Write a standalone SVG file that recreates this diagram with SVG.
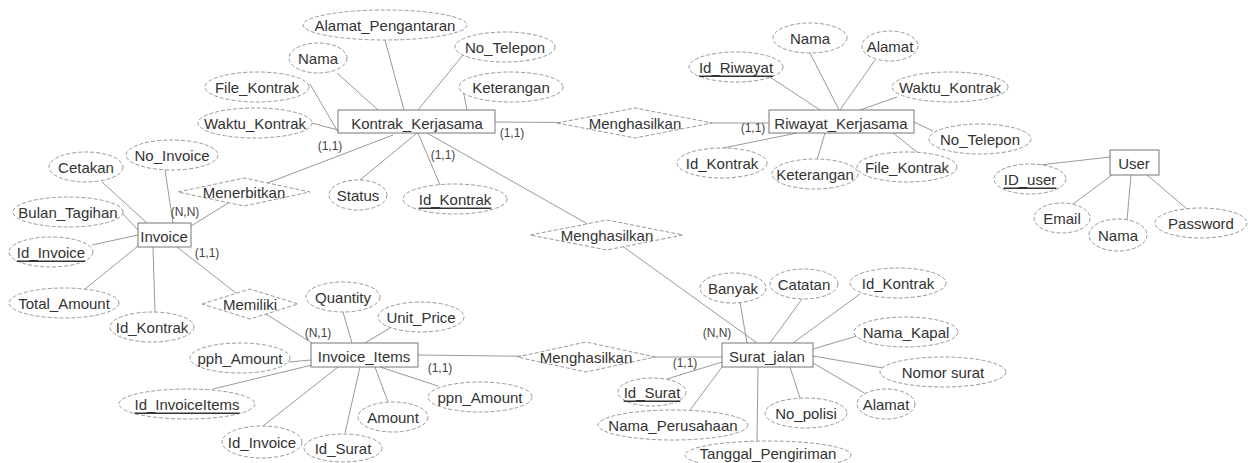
<svg xmlns="http://www.w3.org/2000/svg" width="1248" height="463" viewBox="0 0 1248 463">
<style>
text{font-family:"Liberation Sans",Arial,sans-serif;font-size:15px;fill:#333;text-anchor:middle;dominant-baseline:central}
.attr{fill:#fff;stroke:#999;stroke-width:1;stroke-dasharray:4 2}
.ent{fill:#fff;stroke:#777;stroke-width:1}
.rel{fill:#fff;stroke:#999;stroke-width:1;stroke-dasharray:4 2}
.con line{stroke:#999;stroke-width:1}
.card{font-size:12px;fill:#444}
.key{text-decoration:underline}
</style>
<rect width="1248" height="463" fill="#fff"/>
<g id="connectors" class="con">
<line x1="385" y1="40" x2="404" y2="110"/>
<line x1="337" y1="73" x2="378" y2="110"/>
<line x1="310" y1="84" x2="338" y2="132"/>
<line x1="300" y1="120" x2="338" y2="130"/>
<line x1="463" y1="55" x2="418" y2="110"/>
<line x1="463" y1="90" x2="467" y2="110"/>
<line x1="360" y1="180" x2="417" y2="133"/>
<line x1="440" y1="185" x2="418" y2="133"/>
<line x1="393" y1="135" x2="244" y2="192"/>
<line x1="233" y1="200" x2="191" y2="226"/>
<line x1="427" y1="133" x2="607" y2="235"/>
<line x1="607" y1="235" x2="757" y2="343"/>
<line x1="495" y1="122" x2="635" y2="123"/>
<line x1="635" y1="123" x2="769" y2="123"/>
<line x1="770" y1="77" x2="820" y2="110"/>
<line x1="810" y1="53" x2="839" y2="110"/>
<line x1="875" y1="60" x2="840" y2="110"/>
<line x1="897" y1="97" x2="860" y2="110"/>
<line x1="914" y1="122" x2="933" y2="131"/>
<line x1="893" y1="133" x2="917" y2="152"/>
<line x1="825" y1="133" x2="817" y2="160"/>
<line x1="797" y1="133" x2="723" y2="148"/>
<line x1="1110" y1="157" x2="1040" y2="165"/>
<line x1="1112" y1="175" x2="1073" y2="204"/>
<line x1="1131" y1="175" x2="1127" y2="220"/>
<line x1="1147" y1="175" x2="1187" y2="209"/>
<line x1="102" y1="182" x2="147" y2="223"/>
<line x1="165" y1="170" x2="173" y2="223"/>
<line x1="122" y1="213" x2="138" y2="230"/>
<line x1="92" y1="245" x2="138" y2="235"/>
<line x1="85" y1="289" x2="138" y2="246"/>
<line x1="155" y1="312" x2="153" y2="247"/>
<line x1="177" y1="247" x2="250" y2="304"/>
<line x1="250" y1="304" x2="312" y2="343"/>
<line x1="343" y1="312" x2="352" y2="343"/>
<line x1="390" y1="328" x2="365" y2="343"/>
<line x1="289" y1="362" x2="311" y2="360"/>
<line x1="213" y1="389" x2="312" y2="365"/>
<line x1="263" y1="426" x2="338" y2="367"/>
<line x1="345" y1="433" x2="360" y2="367"/>
<line x1="388" y1="402" x2="375" y2="367"/>
<line x1="438" y1="386" x2="380" y2="367"/>
<line x1="418" y1="355" x2="586" y2="357"/>
<line x1="586" y1="357" x2="722" y2="357"/>
<line x1="740" y1="302" x2="747" y2="343"/>
<line x1="802" y1="299" x2="770" y2="343"/>
<line x1="860" y1="294" x2="793" y2="343"/>
<line x1="857" y1="336" x2="813" y2="349"/>
<line x1="883" y1="368" x2="813" y2="356"/>
<line x1="866" y1="394" x2="813" y2="363"/>
<line x1="800" y1="398" x2="790" y2="367"/>
<line x1="757" y1="442" x2="758" y2="367"/>
<line x1="690" y1="410" x2="722" y2="367"/>
<line x1="667" y1="379" x2="722" y2="362"/>
</g>
<g id="rel-menerbitkan"><polygon class="rel" points="178,192 244,178 310,192 244,206"/><text x="244" y="192">Menerbitkan</text></g>
<g id="rel-memiliki"><polygon class="rel" points="202,304 250,289 298,304 250,319"/><text x="250" y="304">Memiliki</text></g>
<g id="rel-menghasilkan-riwayat"><polygon class="rel" points="557,123 635,108 712,123 635,138"/><text x="635" y="123">Menghasilkan</text></g>
<g id="rel-menghasilkan-surat"><polygon class="rel" points="530,235 607,220 683,235 607,250"/><text x="607" y="235">Menghasilkan</text></g>
<g id="rel-menghasilkan-items"><polygon class="rel" points="517,357 586,342 655,357 586,372"/><text x="586" y="357">Menghasilkan</text></g>

<g id="ent-kontrak"><rect class="ent" x="338" y="110" width="157" height="23"/><text x="417" y="123">Kontrak_Kerjasama</text></g>
<g id="ent-riwayat"><rect class="ent" x="769" y="110" width="145" height="23"/><text x="841" y="123">Riwayat_Kerjasama</text></g>
<g id="ent-invoice"><rect class="ent" x="138" y="223" width="53" height="24"/><text x="164" y="236">Invoice</text></g>
<g id="ent-items"><rect class="ent" x="311" y="343" width="107" height="24"/><text x="364" y="356">Invoice_Items</text></g>
<g id="ent-surat"><rect class="ent" x="722" y="343" width="91" height="24"/><text x="767" y="356">Surat_jalan</text></g>
<g id="ent-user"><rect class="ent" x="1110" y="150" width="49" height="25"/><text x="1134" y="163">User</text></g>

<g id="k-alamat"><ellipse class="attr" cx="385" cy="25" rx="82" ry="15"/><text x="385" y="25">Alamat_Pengantaran</text></g>
<g id="k-nama"><ellipse class="attr" cx="318" cy="58" rx="29" ry="15"/><text x="318" y="58">Nama</text></g>
<g id="k-notelp"><ellipse class="attr" cx="505" cy="47" rx="50" ry="15"/><text x="505" y="47">No_Telepon</text></g>
<g id="k-ket"><ellipse class="attr" cx="511" cy="87" rx="52" ry="15"/><text x="511" y="87">Keterangan</text></g>
<g id="k-file"><ellipse class="attr" cx="257" cy="87" rx="52" ry="15"/><text x="257" y="87">File_Kontrak</text></g>
<g id="k-waktu"><ellipse class="attr" cx="255" cy="123" rx="57" ry="15"/><text x="255" y="123">Waktu_Kontrak</text></g>
<g id="k-status"><ellipse class="attr" cx="358" cy="195" rx="29" ry="15"/><text x="358" y="195">Status</text></g>
<g id="k-id"><ellipse class="attr" cx="455" cy="199" rx="52" ry="15"/><text class="key" x="455" y="199">Id_Kontrak</text></g>

<g id="i-cetakan"><ellipse class="attr" cx="86" cy="167" rx="37" ry="15"/><text x="86" y="167">Cetakan</text></g>
<g id="i-noinv"><ellipse class="attr" cx="172" cy="155" rx="46" ry="15"/><text x="172" y="155">No_Invoice</text></g>
<g id="i-bulan"><ellipse class="attr" cx="68" cy="212" rx="55" ry="15"/><text x="68" y="212">Bulan_Tagihan</text></g>
<g id="i-id"><ellipse class="attr" cx="51" cy="252" rx="42" ry="15"/><text class="key" x="51" y="252">Id_Invoice</text></g>
<g id="i-total"><ellipse class="attr" cx="64" cy="303" rx="55" ry="15"/><text x="64" y="303">Total_Amount</text></g>
<g id="i-idk"><ellipse class="attr" cx="152" cy="327" rx="42" ry="15"/><text x="152" y="327">Id_Kontrak</text></g>

<g id="it-qty"><ellipse class="attr" cx="343" cy="297" rx="37" ry="15"/><text x="343" y="297">Quantity</text></g>
<g id="it-unit"><ellipse class="attr" cx="421" cy="317" rx="43" ry="15"/><text x="421" y="317">Unit_Price</text></g>
<g id="it-pph"><ellipse class="attr" cx="240" cy="358" rx="50" ry="15"/><text x="240" y="358">pph_Amount</text></g>
<g id="it-id"><ellipse class="attr" cx="187" cy="404" rx="68" ry="15"/><text class="key" x="187" y="404">Id_InvoiceItems</text></g>
<g id="it-idinv"><ellipse class="attr" cx="262" cy="442" rx="40" ry="16"/><text x="262" y="442">Id_Invoice</text></g>
<g id="it-idsurat"><ellipse class="attr" cx="343" cy="448" rx="39" ry="14"/><text x="343" y="448">Id_Surat</text></g>
<g id="it-amount"><ellipse class="attr" cx="393" cy="417" rx="35" ry="15"/><text x="393" y="417">Amount</text></g>
<g id="it-ppn"><ellipse class="attr" cx="480" cy="397" rx="52" ry="15"/><text x="480" y="397">ppn_Amount</text></g>

<g id="s-banyak"><ellipse class="attr" cx="733" cy="288" rx="33" ry="15"/><text x="733" y="288">Banyak</text></g>
<g id="s-catatan"><ellipse class="attr" cx="804" cy="284" rx="34" ry="15"/><text x="804" y="284">Catatan</text></g>
<g id="s-idk"><ellipse class="attr" cx="898" cy="283" rx="48" ry="15"/><text x="898" y="283">Id_Kontrak</text></g>
<g id="s-kapal"><ellipse class="attr" cx="906" cy="332" rx="52" ry="15"/><text x="906" y="332">Nama_Kapal</text></g>
<g id="s-nomor"><ellipse class="attr" cx="943" cy="372" rx="63" ry="15"/><text x="943" y="372">Nomor surat</text></g>
<g id="s-alamat"><ellipse class="attr" cx="886" cy="404" rx="29" ry="15"/><text x="886" y="404">Alamat</text></g>
<g id="s-nopol"><ellipse class="attr" cx="806" cy="413" rx="41" ry="15"/><text x="806" y="413">No_polisi</text></g>
<g id="s-tanggal"><ellipse class="attr" cx="768" cy="455" rx="83" ry="14"/><text x="768" y="453">Tanggal_Pengiriman</text></g>
<g id="s-perusahaan"><ellipse class="attr" cx="673" cy="425" rx="75" ry="15"/><text x="673" y="425">Nama_Perusahaan</text></g>
<g id="s-id"><ellipse class="attr" cx="652" cy="392" rx="34" ry="14"/><text class="key" x="652" y="392">Id_Surat</text></g>

<g id="r-id"><ellipse class="attr" cx="736" cy="67" rx="47" ry="15"/><text class="key" x="736" y="67">Id_Riwayat</text></g>
<g id="r-nama"><ellipse class="attr" cx="810" cy="38" rx="37" ry="15"/><text x="810" y="38">Nama</text></g>
<g id="r-alamat"><ellipse class="attr" cx="890" cy="46" rx="28" ry="15"/><text x="890" y="46">Alamat</text></g>
<g id="r-waktu"><ellipse class="attr" cx="950" cy="87" rx="58" ry="15"/><text x="950" y="87">Waktu_Kontrak</text></g>
<g id="r-notelp"><ellipse class="attr" cx="980" cy="139" rx="51" ry="15"/><text x="980" y="139">No_Telepon</text></g>
<g id="r-file"><ellipse class="attr" cx="907" cy="167" rx="50" ry="15"/><text x="907" y="167">File_Kontrak</text></g>
<g id="r-ket"><ellipse class="attr" cx="815" cy="174" rx="43" ry="15"/><text x="815" y="174">Keterangan</text></g>
<g id="r-idk"><ellipse class="attr" cx="722" cy="163" rx="45" ry="15"/><text x="722" y="163">Id_Kontrak</text></g>

<g id="u-id"><ellipse class="attr" cx="1030" cy="179" rx="36" ry="15"/><text class="key" x="1030" y="179">ID_user</text></g>
<g id="u-email"><ellipse class="attr" cx="1062" cy="218" rx="28" ry="15"/><text x="1062" y="218">Email</text></g>
<g id="u-nama"><ellipse class="attr" cx="1118" cy="235" rx="29" ry="16"/><text x="1118" y="235">Nama</text></g>
<g id="u-pass"><ellipse class="attr" cx="1201" cy="223" rx="46" ry="15"/><text x="1201" y="223">Password</text></g>

<g id="cardinalities">
<text class="card" x="330" y="146">(1,1)</text>
<text class="card" x="512" y="133">(1,1)</text>
<text class="card" x="443" y="155">(1,1)</text>
<text class="card" x="753" y="128">(1,1)</text>
<text class="card" x="185" y="212">(N,N)</text>
<text class="card" x="207" y="253">(1,1)</text>
<text class="card" x="318" y="333">(N,1)</text>
<text class="card" x="440" y="368">(1,1)</text>
<text class="card" x="685" y="363">(1,1)</text>
<text class="card" x="717" y="333">(N,N)</text>
</g>
</svg>
